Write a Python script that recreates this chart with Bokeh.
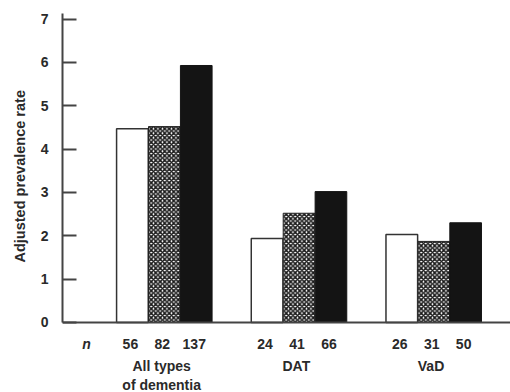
from bokeh.plotting import figure
from bokeh.models import Range1d, FixedTicker, Span, Title
from bokeh.core.properties import value
from bokeh.embed import file_html
from bokeh.resources import INLINE

groups = ["All types\nof dementia", "DAT", "VaD"]
white_vals = [4.47, 1.94, 2.03]
checked_vals = [4.52, 2.52, 1.87]
black_vals = [5.93, 3.02, 2.30]
white_n = ["56", "24", "26"]
checked_n = ["82", "41", "31"]
black_n = ["137", "66", "50"]
y_ticks = [0, 1, 2, 3, 4, 5, 6, 7]

gx = [0, 1, 2]
off = 0.237
bw = 0.235

FONT = "Liberation Sans"
TXT = "#2a2a2a"
AX = "#444444"

Y_TOP = 7.13
p = figure(width=510, height=392, output_backend="svg", toolbar_location=None,
           x_range=Range1d(-0.756, 2.57), y_range=Range1d(-1.617, Y_TOP),
           min_border_left=61, min_border_right=0, min_border_top=13, min_border_bottom=0,
           x_axis_type=None)
p.outline_line_color = None
p.grid.visible = False
p.background_fill_color = "white"

p.vbar(x=[g - off for g in gx], top=white_vals, width=bw, fill_color="white",
       line_color="#333333", line_width=1.5)
p.vbar(x=gx, top=checked_vals, width=bw, fill_color="white", line_color="#222222",
       line_width=1, hatch_pattern="diagonal_cross", hatch_color="#1a1a1a",
       hatch_scale=4.5, hatch_weight=1.6)
p.vbar(x=[g + off for g in gx], top=black_vals, width=bw, fill_color="#141414",
       line_color="#141414", line_width=1)

# baseline (x axis line)
p.add_layout(Span(location=0, dimension="width", line_color=AX, line_width=2))

ya = p.yaxis[0]
ya.bounds = (0, Y_TOP)
ya.ticker = FixedTicker(ticks=y_ticks)
ya.major_label_text_font = FONT
ya.major_label_text_font_style = "bold"
ya.major_label_text_font_size = "14px"
ya.major_label_text_color = TXT
ya.major_label_standoff = 14
ya.major_tick_in = 14
ya.major_tick_out = 0
ya.minor_tick_in = 0
ya.minor_tick_out = 0
ya.axis_line_color = AX
ya.axis_line_width = 2
ya.major_tick_line_color = AX
ya.major_tick_line_width = 2

# y axis title, placed along the 0..7 part of the axis
p.add_layout(Title(text="Adjusted prevalence rate", align="left", offset=130,
                   text_font=FONT, text_font_style="bold", text_font_size="14.5px",
                   text_color=TXT, standoff=19), "left")

# count labels under each bar
cnt_x, cnt_t = [], []
for i, g in enumerate(gx):
    for dx, lab in ((-off, white_n[i]), (0, checked_n[i]), (off, black_n[i])):
        cnt_x.append(g + dx - 0.015)
        cnt_t.append(lab)
CNT_Y = -0.508
p.text(x=cnt_x, y=[CNT_Y] * len(cnt_x), text=cnt_t, text_font=value(FONT),
       text_font_style="bold", text_font_size="14px", text_color=TXT,
       text_align="center", text_baseline="middle")
p.text(x=[-0.578], y=[CNT_Y], text=["n"], text_font=value(FONT),
       text_font_style="bold italic", text_font_size="14px", text_color=TXT,
       text_align="center", text_baseline="middle")

# group labels
p.text(x=[g - 0.02 for g in gx], y=[-0.82] * len(gx), text=groups,
       text_font=value(FONT), text_font_style="bold", text_font_size="14px",
       text_color=TXT, text_align="center", text_baseline="top",
       text_line_height=1.2)

open("out.html", "w").write(file_html(p, INLINE))
